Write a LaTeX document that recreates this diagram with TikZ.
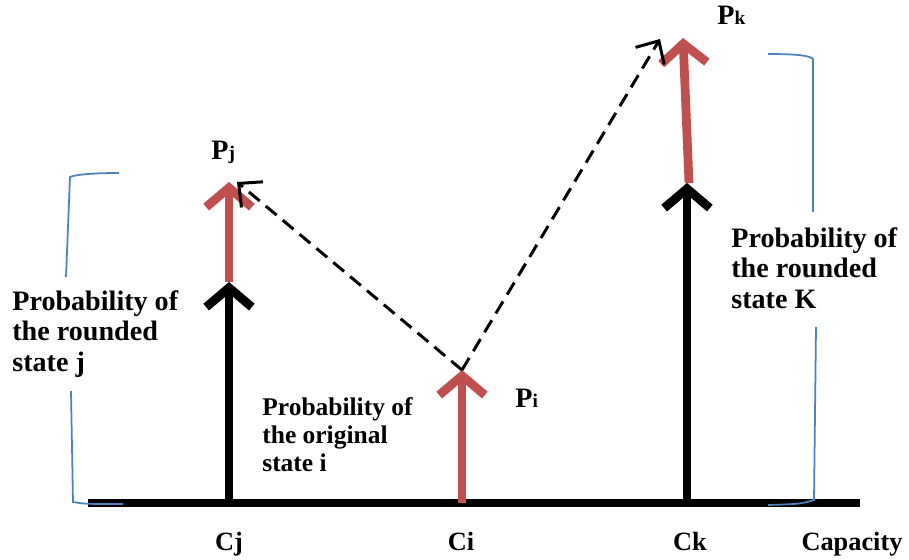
\documentclass[tikz,border=0pt]{standalone}
\usepackage{fontspec}
\setmainfont{Liberation Serif}[BoldFont={Liberation Serif Bold}]
\usetikzlibrary{arrows.meta,positioning,calc}
\definecolor{probred}{RGB}{192,80,77}
\definecolor{brktblue}{RGB}{79,129,189}
\tikzstyle{axisline} = [line width=4pt, black]
\tikzstyle{blackprob} = [line width=5pt, black, -{Straight Barb[length=11pt,width=26pt]}]
\tikzstyle{redprob} = [line width=5pt, probred, -{Straight Barb[length=11pt,width=26pt]}]
\tikzstyle{jump} = [line width=1.7pt, dash pattern=on 8pt off 4.5pt, -{Straight Barb[length=10pt,width=19pt]}]
\tikzstyle{brkt} = [line width=1pt, brktblue]
\tikzstyle{caplbl} = [font=\bfseries\fontsize{15}{15}\selectfont, inner sep=0pt, anchor=base]
\tikzstyle{plbl} = [font=\bfseries\fontsize{16}{16}\selectfont, inner sep=0pt, anchor=base west]
\tikzstyle{bigtext} = [font=\bfseries\fontsize{16}{17.5}\selectfont, align=left, inner sep=0pt, anchor=north west]
\tikzstyle{smalltext} = [font=\bfseries\fontsize{14.5}{15.9}\selectfont, align=left, inner sep=0pt, anchor=north west]
\newcommand{\psub}[1]{{\fontsize{11}{11}\selectfont #1}}

\begin{document}
\begin{tikzpicture}[x=0.02cm, y=-0.02cm]
    \useasboundingbox (0,0) rectangle (909,560);

    % Capacity axis
    \coordinate (ax0) at (88,503);
    \coordinate (ax1) at (860,503);
    \draw[axisline] (ax0) -- (ax1);

    % State j
    \coordinate (cj) at (229,503);
    \coordinate (cjtop) at (229,282);
    \coordinate (pj) at (229,182);
    \draw[blackprob] (cj) -- (cjtop);
    \draw[redprob] (cjtop) -- (pj);

    % State i
    \coordinate (ci) at (462,503);
    \coordinate (pi) at (462,370);
    \draw[redprob] (ci) -- (pi);

    % State k
    \coordinate (ck) at (687,503);
    \coordinate (cktop) at (687,183);
    \coordinate (ckred) at (689,183);
    \coordinate (pk) at (683,38);
    \draw[blackprob] (ck) -- (cktop);
    \draw[redprob] (ckred) -- (pk);

    % Moving the probability of i
    \coordinate (pjin) at (237,182);
    \coordinate (pkin) at (660,39);
    \draw[jump] (pi) -- (pjin);
    \draw[jump] (pi) -- (pkin);

    % Brackets
    \draw[brkt] (119,173) .. controls (90,173) and (74,175) .. (70,177) -- (66,277);
    \draw[brkt] (71,391) -- (73,502) .. controls (85,504) .. (123,504);
    \draw[brkt] (768,54) .. controls (800,54) and (810,56) .. (813,59) -- (813,212);
    \draw[brkt] (816,327) -- (814,500) .. controls (800,504) .. (768,505);

    % Labels
    \node[plbl] (pjlab) at (211,160) {P\psub{j}};
    \node[plbl] (pilab) at (515,407) {P\psub{i}};
    \node[plbl] (pklab) at (717,25) {P\psub{k}};
    \node[caplbl] (cjlab) at (229,550) {Cj};
    \node[caplbl] (cilab) at (461,550) {Ci};
    \node[caplbl] (cklab) at (690,550) {Ck};
    \node[caplbl] (caplab) at (852,550) {Capacity};
    \node[bigtext] (jtext) at (12,290) {Probability of\\the rounded\\state j};
    \node[smalltext] (itext) at (262,397) {Probability of\\the original\\state i};
    \node[bigtext] (ktext) at (731,227) {Probability of\\the rounded\\state K};
\end{tikzpicture}
\end{document}
